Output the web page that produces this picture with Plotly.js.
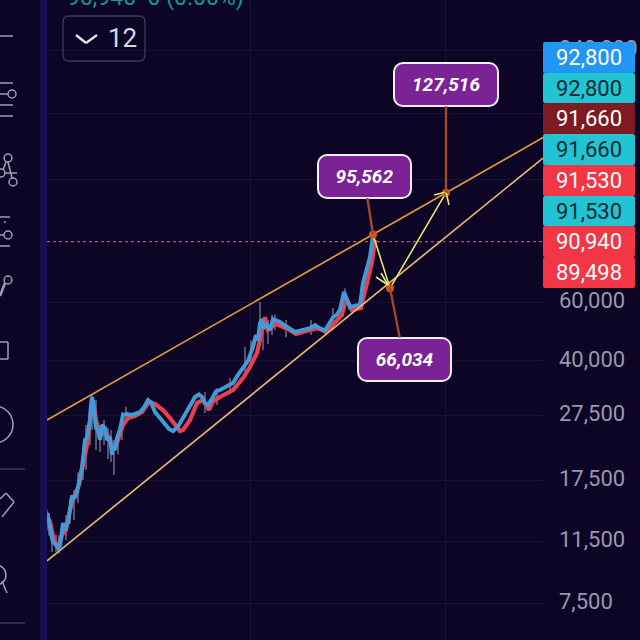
<!DOCTYPE html>
<html><head><meta charset="utf-8">
<script src="https://cdn.plot.ly/plotly-3.0.1.min.js"></script>
<style>html,body{margin:0;padding:0;background:#0c0526;overflow:hidden}#c{width:640px;height:640px}.scatterlayer{filter:blur(.5px)}</style>
</head><body><div id="c"></div>
<script>
const blueX=[47,48,50,52,53,56,58,60,62,63,65,68,70,72,75,77,80,82,84,85,87,90,91,92,93,95,96,98,100,102,105,107,110,112,113,115,117,120,123,127,132,140,144,148,151,155,160,165,169,173,178,183,189,195,199,202,205,208,212,216,220,226,233,238,243,248,253,256,258,260,262,264,267,270,273,275,280,284,287,295,303,310,315,320,325,329,333,337,340,344,347,350,355,360,363,367,370,373];
const blueY=[14000,13340,12710,11790,11470,11240,11000,11160,12450,13070,12450,13160,14300,15640,15640,16190,17830,19230,21620,23170,23500,26590,29500,31160,30100,27150,25170,24820,23170,25700,25170,23170,23650,20920,22390,21620,23500,24820,27530,27700,27530,28100,29000,30510,30000,28100,26960,25700,25000,24650,25400,26960,29200,31160,31700,31160,29900,29500,30800,32400,32700,33400,34330,36300,38320,40000,43990,47800,46100,51900,53300,50100,51200,49470,53300,53000,52270,51200,50500,48790,49500,50100,51200,50000,49300,51500,54000,55000,56800,64280,61000,57900,58500,58800,68400,76000,81800,94900];
const redX=[47,50,54,58,62,66,70,74,79,84,88,91,93,96,100,106,110,114,118,123,128,135,142,149,155,163,170,175,180,183,190,197,203,209,213,220,233,243,250,257,262,265,268,276,288,296,310,318,326,335,342,346,352,361,365,372,375];
const redY=[13810,13160,11630,11000,12030,12450,14300,15640,16990,19900,23170,28500,30510,26590,23990,24480,22850,21620,23170,25700,26960,27340,28100,30100,29700,28500,26960,25700,24650,24820,26590,29900,30510,28500,30200,31160,32700,35500,38320,42200,48450,54000,49470,51560,49800,48100,49470,50100,48790,52270,54850,61700,56800,57600,64280,79060,92000];
const wickX=[47,49,52,56,59,66,70,74,78,83,86,90,92,96,100,104,108,111,114,118,122,126,205,217,230,245,251,260,263,268,272,275,286,311,333,345];
const wickLow=[12450,12000,10700,10700,10600,11630,13000,13340,15000,17590,18830,22390,24820,21620,21330,22390,20300,19900,18200,21000,23170,26000,27900,29500,32000,37020,39000,49470,43000,45000,47800,49470,47000,47800,49470,58000];
const wickHigh=[14300,14000,12450,12030,12000,13810,15500,16410,18500,22390,25700,27530,31600,30510,25700,26590,25170,24820,23170,24800,28100,29200,32260,33100,35500,44000,46000,60000,53000,53000,54850,55000,53000,53000,57600,66000];
const upperX=[47,543], upperY=[26590,186500];
const lowerX=[47,543], lowerY=[10060,161900];
const pointX=[373,390,446], pointY=[95562,66034,127516];
const pointLabels=['95,562','66,034','127,516'];
const lastPrice=90940;
const priceTags=['92,800','92,800','91,660','91,660','91,530','91,530','90,940','89,498'];
const tagFill=['#2196f3','#22c3d2','#7d1a22','#22c3d2','#f23645','#22c3d2','#f23645','#f23645'];
const tagInk=['#ffffff','#0b2b33','#ffffff','#0b2b33','#ffffff','#0b2b33','#ffffff','#ffffff'];
const tickVals=[7500,11500,17500,27500,40000,60000,140000,220000,340000];
const tickText=['7,500','11,500','17,500','27,500','40,000','60,000','','','340,000'];

const px=p=>(p-47)/496, py=p=>1-p/640;
const wx=[],wy=[];
wickX.forEach((x,i)=>{wx.push(x,x,null);wy.push(wickLow[i],wickHigh[i],null);});

const traces=[
 {x:wx,y:wy,mode:'lines',line:{color:'#7d7c96',width:1.3},hoverinfo:'skip'},
 {x:redX,y:redY,mode:'lines',line:{color:'#e8404f',width:4.2},hoverinfo:'skip'},
 {x:blueX,y:blueY,mode:'lines',line:{color:'#4399d6',width:4},hoverinfo:'skip'},
 {x:upperX,y:upperY,mode:'lines',line:{color:'#e0973f',width:1.7},hoverinfo:'skip'},
 {x:lowerX,y:lowerY,mode:'lines',line:{color:'#e3b472',width:1.7},hoverinfo:'skip'},
 {x:[pointX[0],pointX[1],pointX[2]],y:[pointY[0],pointY[1],pointY[2]],mode:'lines',line:{color:'#eee768',width:1.6},hoverinfo:'skip'},
 {x:pointX,y:pointY,mode:'markers',marker:{color:'#c9591a',size:8},hoverinfo:'skip'}
];

const ann=[];
const off=[[-9,-58],[14,71],[0,-108]], boxW=[93,93,104];
pointX.forEach((x,i)=>ann.push({x:x,y:Math.log10(pointY[i]),xref:'x',yref:'y',ax:off[i][0],ay:off[i][1],
  text:'<b><i>'+pointLabels[i]+'</i></b>',showarrow:true,arrowhead:0,arrowwidth:2.4,arrowcolor:'#a0492a',
  bgcolor:'#7a2296',bordercolor:'#f4eef8',borderwidth:2,width:boxW[i]-4,height:39,
  font:{family:'Roboto',size:19,color:'#ffffff'}}));
priceTags.forEach((t,i)=>{
  const top=[42,73,103,134,165,196,226,257][i], bot=[73,103,134,165,196,226,257,288][i];
  ann.push({xref:'paper',yref:'paper',x:px(589),xanchor:'center',yanchor:'middle',y:py((top+bot)/2),text:t,showarrow:false,bgcolor:tagFill[i],
    width:92,height:bot-top,borderpad:0,borderwidth:0,font:{family:'Roboto',size:22,color:tagInk[i]}});
});
ann.push({xref:'paper',yref:'paper',x:px(122),xanchor:'center',yanchor:'middle',y:py(38),text:'12',showarrow:false,font:{family:'Roboto',size:26,color:'#d8d6e0'}});
ann.push({xref:'paper',yref:'paper',x:px(65),xanchor:'left',yanchor:'middle',y:py(-3),text:'90,940  0 (0.00%)',showarrow:false,font:{family:'Roboto',size:23,color:'#159a8c'}});

const ic='#a09db8';
const L=(a,b,c,d,col,w)=>({type:'line',xref:'paper',yref:'paper',x0:px(a),y0:py(b),x1:px(c),y1:py(d),line:{color:col||ic,width:w||1.5},layer:'above'});
const C=(a,b,r)=>({type:'circle',xref:'paper',yref:'paper',x0:px(a-r),x1:px(a+r),y0:py(b-r),y1:py(b+r),line:{color:ic,width:1.5},layer:'above'});
const R=(a,b,c,d,fill,line,w)=>({type:'rect',xref:'paper',yref:'paper',x0:px(a),x1:px(c),y0:py(b),y1:py(d),fillcolor:fill,line:{color:line||fill,width:w||0},layer:'below'});
const shapes=[
 R(40,0,47,640,'#150f55'),
 {type:'line',xref:'paper',yref:'y',x0:0,x1:1,y0:lastPrice,y1:lastPrice,line:{color:'#c0506a',width:1.2,dash:'dot'},layer:'below'},
 {type:'path',xref:'paper',yref:'paper',layer:'above',line:{color:'#3f3a56',width:1.3},
  path:`M${px(69)},${py(16)}L${px(139)},${py(16)}Q${px(145)},${py(16)} ${px(145)},${py(22)}L${px(145)},${py(55)}Q${px(145)},${py(61)} ${px(139)},${py(61)}L${px(69)},${py(61)}Q${px(63)},${py(61)} ${px(63)},${py(55)}L${px(63)},${py(22)}Q${px(63)},${py(16)} ${px(69)},${py(16)}Z`},
 L(76,35,86,43,'#e6e4ee',2.4),L(86,43,97,35,'#e6e4ee',2.4),
 L(0,36,13,36),
 L(0,83,13,83),L(0,94,8,94),C(12,94,4),L(0,105,13,105),L(0,116,13,116),
 C(8,158,4),C(13,182,4),C(1,173,4),L(8,162,12,178),L(6,162,3,170),L(5,173,17,173),
 L(0,217,10,217),L(4,222,6,222),L(0,235,4,235),C(8,235,4),L(0,246,10,246),
 C(8,280,4),L(5,283,0,296,ic,2.5),
 L(0,342,8,342),L(8,342,8,359),L(8,359,0,359),
 {type:'circle',xref:'paper',yref:'paper',x0:px(-23),x1:px(13),y0:py(406),y1:py(443),line:{color:ic,width:1.5},layer:'above'},
 L(0,469,25,469,'#56526c',1),
 L(6,493,14,502),L(14,502,2,517),L(6,493,0,499),
 {type:'circle',xref:'paper',yref:'paper',x0:px(-14),x1:px(6),y0:py(565),y1:py(585),line:{color:ic,width:1.5},layer:'above'},
 L(2,581,7,593),
 L(0,623,25,623,'#56526c',1),
 L(388,285,376,277,'#eee768',1.6),L(388,285,381,273,'#eee768',1.6),
 L(446,192,434,195,'#eee768',1.6),L(446,192,449,205,'#eee768',1.6)
];

const layout={width:640,height:640,margin:{l:47,r:97,t:0,b:0},paper_bgcolor:'#0c0526',plot_bgcolor:'#0c0526',showlegend:false,
 xaxis:{range:[47,543],tickmode:'array',tickvals:[250,445],showticklabels:false,ticks:'',gridcolor:'#181136',gridwidth:1,zeroline:false,showline:false},
 yaxis:{type:'log',side:'right',range:[Math.log10(5832),Math.log10(481700)],tickmode:'array',tickvals:tickVals,ticktext:tickText,
   tickfont:{family:'Roboto',size:22,color:'#9a97ad'},gridcolor:'#181136',gridwidth:1,zeroline:false,showline:false,ticks:'',ticklabelstandoff:15,ticklabelshift:-2},
 annotations:ann,shapes:shapes};
Plotly.newPlot('c',traces,layout,{displayModeBar:false,staticPlot:true}).then(()=>{
  document.querySelectorAll('.annotation').forEach((g,i)=>{
    const r=g.querySelector('rect.bg'); if(r){r.setAttribute('rx',i<3?9:2);}
  });
});
</script></body></html>
